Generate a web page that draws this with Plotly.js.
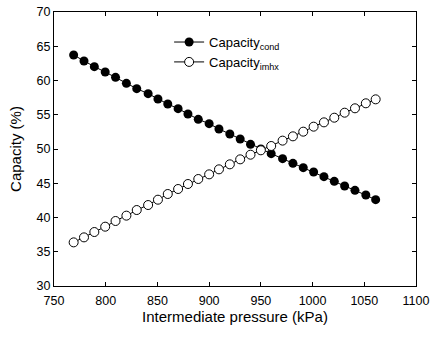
<!DOCTYPE html>
<html>
<head>
<meta charset="utf-8">
<script src="https://cdn.plot.ly/plotly-3.0.1.min.js"></script>
<style>html,body{margin:0;padding:0;background:#fff;}#chart{width:433px;height:341px;}</style>
</head>
<body>
<div id="chart"></div>
<script>
var pressure = [769, 779, 789, 799.5, 809.5, 820, 830, 841, 850.5, 860, 870, 879.5, 889.5, 900, 909.5, 920, 930, 940, 950, 960, 971, 981, 991, 1001, 1011, 1021, 1031, 1041, 1051.5, 1061];
var capacityCond = [63.72, 62.85, 62.02, 61.24, 60.46, 59.59, 58.81, 58.08, 57.30, 56.57, 55.89, 55.11, 54.33, 53.70, 52.92, 52.19, 51.46, 50.68, 50.00, 49.32, 48.59, 47.91, 47.28, 46.64, 45.96, 45.28, 44.60, 43.97, 43.28, 42.60];
var capacityImhx = [36.37, 37.10, 37.88, 38.66, 39.49, 40.27, 41.09, 41.82, 42.60, 43.43, 44.16, 44.89, 45.62, 46.30, 47.03, 47.76, 48.49, 49.17, 49.81, 50.44, 51.22, 51.85, 52.53, 53.26, 53.89, 54.57, 55.30, 55.94, 56.67, 57.25];
var seriesNames = ['Capacity<sub>cond</sub>', 'Capacity<sub>imhx</sub>'];
var xTicks = [750, 800, 850, 900, 950, 1000, 1050, 1100];
var yTicks = [30, 35, 40, 45, 50, 55, 60, 65, 70];

var fontFam = '"Liberation Sans", Arial, sans-serif';
var traces = [
  {x: pressure, y: capacityCond, name: seriesNames[0], mode: 'lines+markers', type: 'scatter',
   line: {color: '#000', width: 1}, marker: {symbol: 'circle', size: 9, color: '#000'}},
  {x: pressure, y: capacityImhx, name: seriesNames[1], mode: 'lines+markers', type: 'scatter',
   line: {color: '#000', width: 1}, marker: {symbol: 'circle', size: 9, color: '#fff', line: {color: '#000', width: 1}}}
];
var layout = {
  width: 433, height: 341,
  margin: {l: 54, r: 17, t: 12, b: 55},
  paper_bgcolor: '#fff', plot_bgcolor: '#fff',
  font: {family: fontFam, color: '#000', size: 13},
  showlegend: true,
  legend: {x: 0.318, y: 0.945, xanchor: 'left', yanchor: 'top', bgcolor: 'rgba(0,0,0,0)', font: {size: 13}, tracegroupgap: 0, itemwidth: 30},
  xaxis: {
    range: [750, 1100], tickvals: xTicks, ticktext: xTicks.map(String),
    ticks: 'inside', ticklen: 4, tickcolor: '#000', showline: true, linecolor: '#000', linewidth: 1, mirror: 'ticks',
    showgrid: false, zeroline: false, tickfont: {size: 12.5}, ticklabelstandoff: 3,
    title: {text: 'Intermediate pressure (kPa)', font: {size: 15}, standoff: 4}
  },
  yaxis: {
    range: [30, 70], tickvals: yTicks, ticktext: yTicks.map(String),
    ticks: 'inside', ticklen: 4, tickcolor: '#000', showline: true, linecolor: '#000', linewidth: 1, mirror: 'ticks',
    showgrid: false, zeroline: false, tickfont: {size: 12.5},
    title: {text: 'Capacity (%)', font: {size: 15}, standoff: 11}
  }
};
Plotly.newPlot('chart', traces, layout, {displayModeBar: false, staticPlot: true});
</script>
</body>
</html>
